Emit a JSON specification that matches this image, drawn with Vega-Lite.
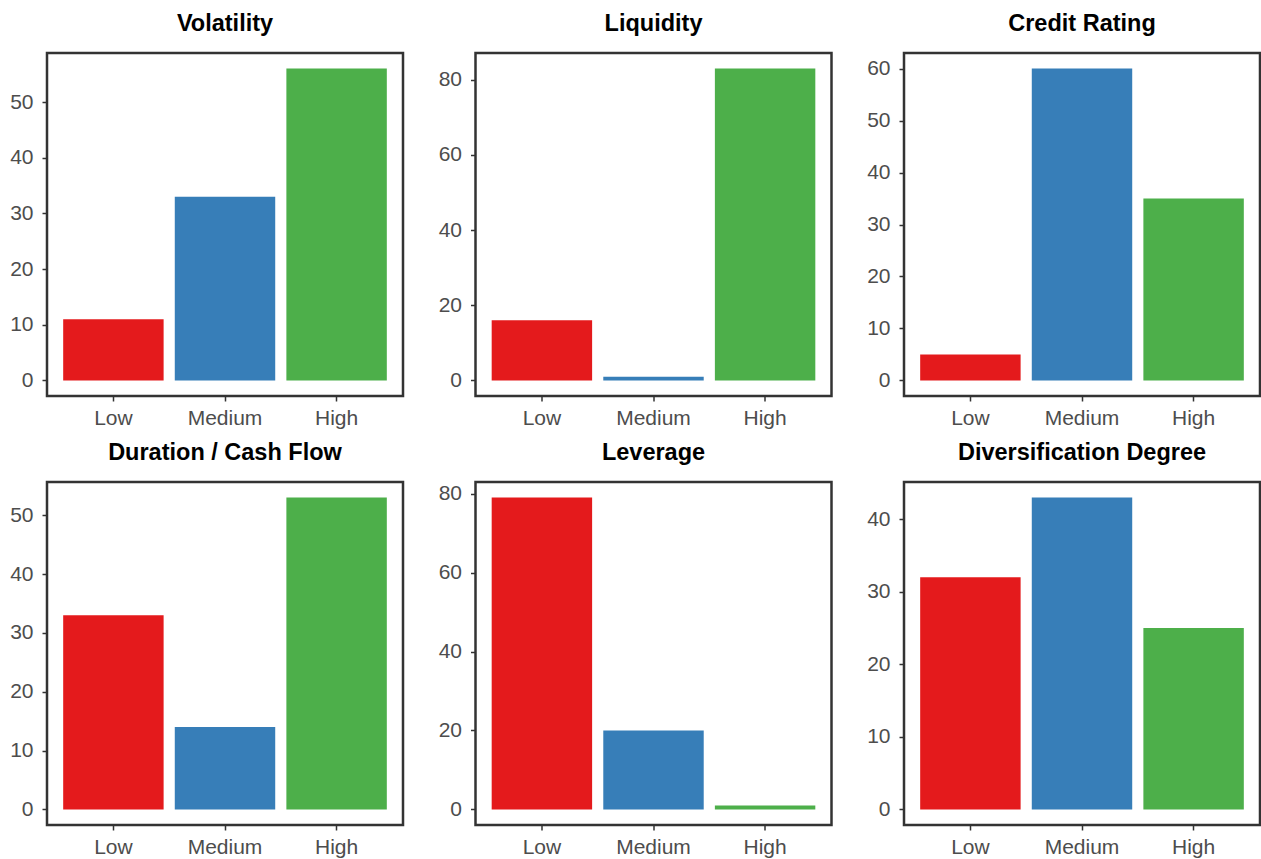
{
  "$schema": "https://vega.github.io/schema/vega-lite/v6.json",
  "padding": {"left": 8, "top": 10, "right": 0, "bottom": 0},
  "background": "white",
  "data": {"values": [
    {"metric": "Volatility", "level": "Low", "value": 11},
    {"metric": "Volatility", "level": "Medium", "value": 33},
    {"metric": "Volatility", "level": "High", "value": 56},
    {"metric": "Liquidity", "level": "Low", "value": 16},
    {"metric": "Liquidity", "level": "Medium", "value": 1},
    {"metric": "Liquidity", "level": "High", "value": 83},
    {"metric": "Credit Rating", "level": "Low", "value": 5},
    {"metric": "Credit Rating", "level": "Medium", "value": 60},
    {"metric": "Credit Rating", "level": "High", "value": 35},
    {"metric": "Duration / Cash Flow", "level": "Low", "value": 33},
    {"metric": "Duration / Cash Flow", "level": "Medium", "value": 14},
    {"metric": "Duration / Cash Flow", "level": "High", "value": 53},
    {"metric": "Leverage", "level": "Low", "value": 79},
    {"metric": "Leverage", "level": "Medium", "value": 20},
    {"metric": "Leverage", "level": "High", "value": 1},
    {"metric": "Diversification Degree", "level": "Low", "value": 32},
    {"metric": "Diversification Degree", "level": "Medium", "value": 43},
    {"metric": "Diversification Degree", "level": "High", "value": 25}
  ]},
  "columns": 3,
  "spacing": {"column": 31.5, "row": 9},
  "concat": [
    {
      "title": "Volatility",
      "width": 356, "height": 343,
      "transform": [{"filter": "datum.metric === 'Volatility'"}],
      "mark": {"type": "bar"},
      "encoding": {
        "x": {"field": "level", "type": "nominal", "sort": ["Low", "Medium", "High"], "scale": {"paddingInner": 0.1, "paddingOuter": 0.145}, "axis": {"title": null, "labelAngle": 0}},
        "y": {"field": "value", "type": "quantitative", "scale": {"domain": [-2.8, 58.8], "nice": false, "zero": false}, "axis": {"title": null, "tickCount": 5}},
        "y2": {"datum": 0},
        "color": {"field": "level", "type": "nominal", "scale": {"domain": ["Low", "Medium", "High"], "range": ["#E41A1C", "#377EB8", "#4DAF4A"]}, "legend": null}
      }
    },
    {
      "title": "Liquidity",
      "width": 356, "height": 343,
      "transform": [{"filter": "datum.metric === 'Liquidity'"}],
      "mark": {"type": "bar"},
      "encoding": {
        "x": {"field": "level", "type": "nominal", "sort": ["Low", "Medium", "High"], "scale": {"paddingInner": 0.1, "paddingOuter": 0.145}, "axis": {"title": null, "labelAngle": 0}},
        "y": {"field": "value", "type": "quantitative", "scale": {"domain": [-4.15, 87.15], "nice": false, "zero": false}, "axis": {"title": null, "tickCount": 5}},
        "y2": {"datum": 0},
        "color": {"field": "level", "type": "nominal", "scale": {"domain": ["Low", "Medium", "High"], "range": ["#E41A1C", "#377EB8", "#4DAF4A"]}, "legend": null}
      }
    },
    {
      "title": "Credit Rating",
      "width": 356, "height": 343,
      "transform": [{"filter": "datum.metric === 'Credit Rating'"}],
      "mark": {"type": "bar"},
      "encoding": {
        "x": {"field": "level", "type": "nominal", "sort": ["Low", "Medium", "High"], "scale": {"paddingInner": 0.1, "paddingOuter": 0.145}, "axis": {"title": null, "labelAngle": 0}},
        "y": {"field": "value", "type": "quantitative", "scale": {"domain": [-3, 63], "nice": false, "zero": false}, "axis": {"title": null, "tickCount": 5}},
        "y2": {"datum": 0},
        "color": {"field": "level", "type": "nominal", "scale": {"domain": ["Low", "Medium", "High"], "range": ["#E41A1C", "#377EB8", "#4DAF4A"]}, "legend": null}
      }
    },
    {
      "title": "Duration / Cash Flow",
      "width": 356, "height": 343,
      "transform": [{"filter": "datum.metric === 'Duration / Cash Flow'"}],
      "mark": {"type": "bar"},
      "encoding": {
        "x": {"field": "level", "type": "nominal", "sort": ["Low", "Medium", "High"], "scale": {"paddingInner": 0.1, "paddingOuter": 0.145}, "axis": {"title": null, "labelAngle": 0}},
        "y": {"field": "value", "type": "quantitative", "scale": {"domain": [-2.65, 55.65], "nice": false, "zero": false}, "axis": {"title": null, "tickCount": 5}},
        "y2": {"datum": 0},
        "color": {"field": "level", "type": "nominal", "scale": {"domain": ["Low", "Medium", "High"], "range": ["#E41A1C", "#377EB8", "#4DAF4A"]}, "legend": null}
      }
    },
    {
      "title": "Leverage",
      "width": 356, "height": 343,
      "transform": [{"filter": "datum.metric === 'Leverage'"}],
      "mark": {"type": "bar"},
      "encoding": {
        "x": {"field": "level", "type": "nominal", "sort": ["Low", "Medium", "High"], "scale": {"paddingInner": 0.1, "paddingOuter": 0.145}, "axis": {"title": null, "labelAngle": 0}},
        "y": {"field": "value", "type": "quantitative", "scale": {"domain": [-3.95, 82.95], "nice": false, "zero": false}, "axis": {"title": null, "tickCount": 5}},
        "y2": {"datum": 0},
        "color": {"field": "level", "type": "nominal", "scale": {"domain": ["Low", "Medium", "High"], "range": ["#E41A1C", "#377EB8", "#4DAF4A"]}, "legend": null}
      }
    },
    {
      "title": "Diversification Degree",
      "width": 356, "height": 343,
      "transform": [{"filter": "datum.metric === 'Diversification Degree'"}],
      "mark": {"type": "bar"},
      "encoding": {
        "x": {"field": "level", "type": "nominal", "sort": ["Low", "Medium", "High"], "scale": {"paddingInner": 0.1, "paddingOuter": 0.145}, "axis": {"title": null, "labelAngle": 0}},
        "y": {"field": "value", "type": "quantitative", "scale": {"domain": [-2.15, 45.15], "nice": false, "zero": false}, "axis": {"title": null, "tickCount": 5}},
        "y2": {"datum": 0},
        "color": {"field": "level", "type": "nominal", "scale": {"domain": ["Low", "Medium", "High"], "range": ["#E41A1C", "#377EB8", "#4DAF4A"]}, "legend": null}
      }
    }
  ],
  "config": {
    "font": "Liberation Sans",
    "view": {"stroke": "#333333", "strokeWidth": 2.5, "fill": "white"},
    "title": {"fontSize": 23.5, "fontWeight": "bold", "color": "#000000", "font": "Liberation Sans", "anchor": "middle", "frame": "group", "offset": 18},
    "axis": {
      "domain": false,
      "grid": false,
      "ticks": true,
      "tickColor": "#333333",
      "tickWidth": 1.5,
      "tickSize": 5,
      "labelFontSize": 21,
      "labelColor": "#4D4D4D",
      "labelFont": "Liberation Sans"
    },
    "axisX": {"labelPadding": 6},
    "axisY": {"labelPadding": 9}
  }
}
